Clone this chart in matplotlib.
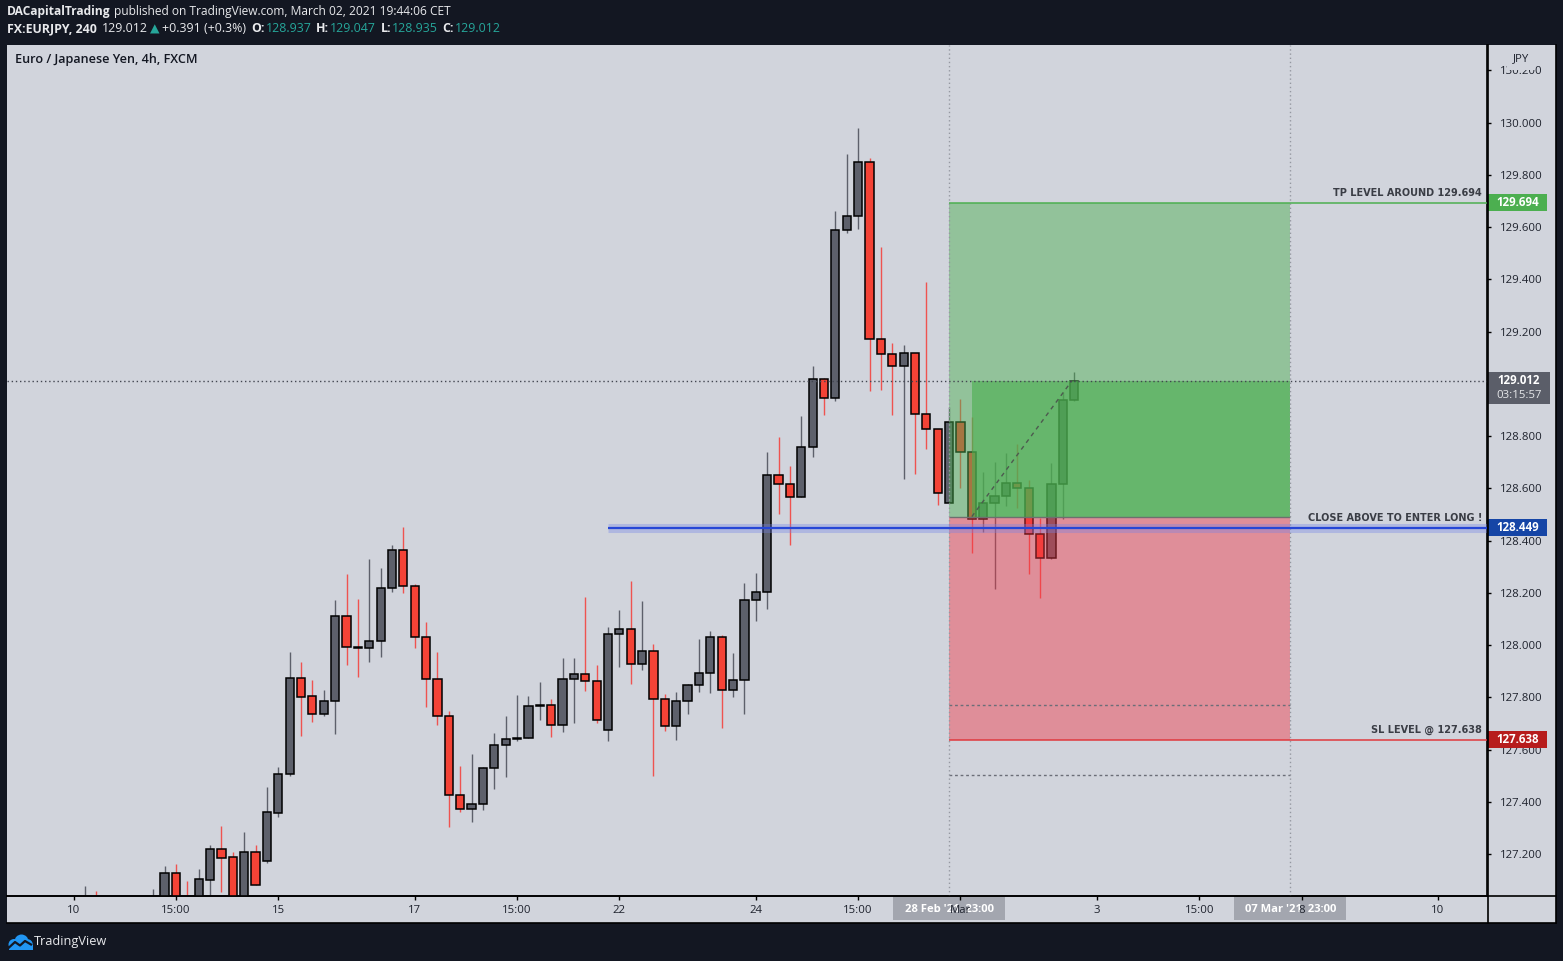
import matplotlib
matplotlib.use("Agg")
import matplotlib.pyplot as plt
from matplotlib.patches import Rectangle, Circle
from matplotlib.lines import Line2D
from matplotlib.transforms import blended_transform_factory as blend

W, H, DPI = 1563, 961, 100
DARK = "#131722"
BG = "#d1d4dc"
UP = "#5d606b"
DOWN = "#f44336"
TEAL = "#26a69a"
FONT = ["Open Sans", "DejaVu Sans"]

# ---------------- data (EURJPY 4h candles, bar index relative to 15 Feb 00:00) ----------------
bar_index = [-17, -16, -11, -10, -9, -8, -7, -6, -5, -4, -3, -2, -1] + list(range(0, 71))
opens = [126.95, 127.00, 126.95, 126.98, 127.126, 127.00, 126.98, 127.102, 127.218, 127.188, 127.00, 127.207, 127.175,
         127.358, 127.505, 127.873, 127.804, 127.735, 127.785, 128.110, 127.992, 127.988, 128.015,
         128.218, 128.363, 128.225, 128.030, 127.869, 127.727, 127.425, 127.371, 127.391, 127.528,
         127.616, 127.640, 127.643, 127.766, 127.770, 127.693, 127.869, 127.888, 127.861, 127.674,
         128.041, 128.060, 127.927, 127.976, 127.792, 127.689, 127.785, 127.846, 127.892, 128.030,
         127.827, 127.865, 128.171, 128.202, 128.650, 128.616, 128.566, 128.757, 129.018, 128.945,
         129.588, 129.642, 129.848, 129.171, 129.113, 129.067, 129.117, 128.884, 128.826, 128.543,
         128.853, 128.738, 128.482, 128.543, 128.570, 128.619, 128.600, 128.424, 128.332, 128.616,
         128.937]
highs = [127.078, 127.060, 127.066, 127.154, 127.162, 127.097, 127.143, 127.235, 127.307, 127.208, 127.284, 127.235, 127.458,
         127.535, 127.974, 127.935, 127.866, 127.827, 128.173, 128.272, 128.176, 128.330, 128.295,
         128.383, 128.452, 128.233, 128.088, 127.974, 127.748, 127.537, 127.583, 127.535, 127.663,
         127.729, 127.809, 127.805, 127.859, 127.793, 127.949, 127.949, 128.184, 127.924, 128.069,
         128.133, 128.245, 128.169, 128.004, 127.813, 127.820, 127.851, 128.023, 128.054, 128.039,
         127.970, 128.238, 128.276, 128.739, 128.797, 128.686, 128.877, 129.069, 129.023, 129.661,
         129.880, 129.980, 129.865, 129.524, 129.157, 129.149, 129.117, 129.390, 128.826, 128.913,
         128.942, 128.873, 128.663, 128.701, 128.735, 128.770, 128.632, 128.485, 128.697, 128.968,
         129.047]
lows = [126.90, 126.90, 126.90, 126.95, 126.95, 126.90, 126.95, 127.02, 127.056, 126.97, 126.98, 127.080, 127.167,
        127.343, 127.499, 127.653, 127.707, 127.730, 127.661, 127.925, 127.879, 127.935, 127.956,
        128.204, 128.201, 127.990, 127.764, 127.695, 127.305, 127.362, 127.324, 127.370, 127.450,
        127.496, 127.632, 127.643, 127.714, 127.649, 127.668, 127.703, 127.825, 127.703, 127.634,
        127.917, 127.852, 127.906, 127.500, 127.672, 127.638, 127.737, 127.822, 127.818, 127.684,
        127.802, 127.737, 128.093, 128.139, 128.503, 128.384, 128.566, 128.721, 128.882, 128.936,
        129.579, 129.594, 128.974, 128.978, 128.882, 128.637, 128.656, 128.752, 128.538, 128.543,
        128.603, 128.354, 128.434, 128.216, 128.534, 128.526, 128.273, 128.181, 128.329, 128.482,
        128.935]
closes = [127.00, 126.95, 127.02, 127.126, 126.98, 126.95, 127.103, 127.218, 127.186, 127.00, 127.207, 127.083, 127.360,
          127.505, 127.873, 127.802, 127.735, 127.785, 128.110, 127.991, 127.988, 128.015, 128.218,
          128.363, 128.225, 128.030, 127.869, 127.727, 127.425, 127.371, 127.391, 127.528, 127.616,
          127.639, 127.643, 127.766, 127.768, 127.693, 127.869, 127.888, 127.861, 127.712, 128.041,
          128.060, 127.927, 127.976, 127.792, 127.689, 127.785, 127.846, 127.892, 128.030, 127.827,
          127.865, 128.171, 128.202, 128.650, 128.616, 128.566, 128.757, 129.018, 128.945, 129.588,
          129.642, 129.848, 129.171, 129.113, 129.067, 129.117, 128.884, 128.826, 128.581, 128.853,
          128.738, 128.482, 128.543, 128.570, 128.619, 128.600, 128.424, 128.332, 128.616, 128.937,
          129.012]

time_tick_pos = [-18, -9, 0, 12, 21, 30, 42, 51, 60, 72, 81, 90, 102]
time_tick_labels = ["10", "15:00", "15", "17", "15:00", "22", "24", "15:00", "Mar", "3", "15:00", "8", "10"]
price_ticks = [127.2, 127.4, 127.6, 127.8, 128.0, 128.2, 128.4, 128.6, 128.8, 129.0, 129.2, 129.4, 129.6, 129.8, 130.0, 130.2]

tp_level = 129.694
entry_level = 128.492
sl_level = 127.638
breakout_level = 128.449
last_close = 129.012
countdown = "03:15:57"
aux_levels = [127.770, 127.502]
pos_start, pos_entry, pos_end = 59, 61, 89
breakout_start = 29
diag_end = 69.8
marker_left = ("28 Feb '21  23:00", 59)
marker_right = ("07 Mar '21  23:00", 89)

# ---------------- figure ----------------
fig = plt.figure(figsize=(W / DPI, H / DPI), dpi=DPI, facecolor=DARK)


def fx(px):
    return px / W


def fy(py):
    return 1 - py / H


fig.patches.append(Rectangle((fx(7), fy(923)), fx(1556) - fx(7), fy(45) - fy(923),
                             transform=fig.transFigure, facecolor=BG, edgecolor="none", zorder=-5))

ax = fig.add_axes([fx(7), fy(896), fx(1487) - fx(7), fy(45) - fy(896)])
ax.set_zorder(1)
ax.set_facecolor(BG)
ax.set_xlim(-23.86, 106.31)
ax.set_ylim(127.0394, 130.2975)
for s in ["top", "left"]:
    ax.spines[s].set_visible(False)
for s in ["right", "bottom"]:
    ax.spines[s].set_color("black")
    ax.spines[s].set_linewidth(1.2)

# candles
min_body = 0.006
up = [c >= o for o, c in zip(opens, closes)]
wick_cols = [UP if u else "#ef5350" for u in up]
body_cols = [UP if u else DOWN for u in up]
ax.vlines(bar_index, lows, highs, colors=wick_cols, linewidth=1.0, zorder=2)
bottoms = [min(o, c) for o, c in zip(opens, closes)]
heights = [max(abs(c - o), min_body) for o, c in zip(opens, closes)]
ax.bar(bar_index, heights, bottom=bottoms, width=0.72, color=body_cols,
       edgecolor="black", linewidth=1.1, zorder=3)

# position tool overlay
GREEN = (76 / 255, 175 / 255, 80 / 255)
RED = (242 / 255, 54 / 255, 69 / 255)
ax.add_patch(Rectangle((pos_start, entry_level), pos_end - pos_start, tp_level - entry_level,
                       facecolor=GREEN, alpha=0.47, edgecolor="none", zorder=4))
ax.add_patch(Rectangle((pos_entry, entry_level), pos_end - pos_entry, last_close - entry_level,
                       facecolor=GREEN, alpha=0.62, edgecolor="none", zorder=4))
ax.add_patch(Rectangle((pos_start, sl_level), pos_end - pos_start, entry_level - sl_level,
                       facecolor=RED, alpha=0.44, edgecolor="none", zorder=4))
ax.hlines(entry_level, pos_start, pos_end, color="#6f6f6f", linewidth=1, zorder=5)
ax.plot([pos_entry, diag_end], [entry_level, last_close], color="#4d5a4f",
        linestyle=(0, (3, 3)), linewidth=1, zorder=5)
ax.hlines(aux_levels, pos_start, pos_end, color="#6b6e78", linestyle=(0, (2, 2)), linewidth=1, zorder=5)

# vertical markers and horizontal levels
for xv in (pos_start, pos_end):
    ax.axvline(xv, color="#9598a1", linestyle=(0, (1, 2)), linewidth=1, zorder=5)
ax.axhline(last_close, color="#434651", linestyle=(0, (1, 2)), linewidth=1, zorder=5)
xmax = ax.get_xlim()[1]
ax.hlines(tp_level, pos_start, xmax, color="#4caf50", linewidth=1.1, zorder=6)
ax.hlines(sl_level, pos_start, xmax, color="#e0393e", linewidth=1.1, zorder=6)
ax.hlines(breakout_level, breakout_start, xmax, color="#7282e8", alpha=0.35, linewidth=6.5, zorder=6)
ax.hlines(breakout_level, breakout_start, xmax, color="#2646d6", linewidth=1.6, zorder=6)

trans_ax_data = blend(ax.transAxes, ax.transData)
for txt, lvl in [("TP LEVEL AROUND 129.694", tp_level),
                 ("CLOSE ABOVE TO ENTER LONG !", breakout_level),
                 ("SL LEVEL @ 127.638", sl_level)]:
    ax.annotate(txt, xy=(0.9966, lvl), xycoords=trans_ax_data, xytext=(0, 3.2),
                textcoords="offset points", ha="right", va="bottom", fontsize=7.0,
                fontweight="bold", color="#3a3d45", family="DejaVu Sans", zorder=7)

# price axis
ax.yaxis.tick_right()
ax.set_yticks(price_ticks)
ax.set_yticklabels([f"{v:.3f}" for v in price_ticks])
ax.tick_params(axis="y", direction="out", length=3, width=1, color="black", pad=6,
               labelsize=8.2, labelcolor="#1e222d")
for lab in ax.get_yticklabels():
    lab.set_family(FONT)

# time axis
ax.set_xticks(time_tick_pos)
ax.set_xticklabels(time_tick_labels)
ax.tick_params(axis="x", direction="out", length=3, width=1, color="black", pad=3.5,
               labelsize=8.2, labelcolor="#1e222d")
for lab in ax.get_xticklabels():
    lab.set_family(FONT)

ypp = (ax.get_ylim()[1] - ax.get_ylim()[0]) / 851.0
xpp = (ax.get_xlim()[1] - ax.get_xlim()[0]) / 1480.0


def price_box(level, text, color, sub=None, width_px=59):
    x0 = 1.0 + 1.0 / 1480
    w = width_px / 1480
    h_top = 8.5 * ypp
    h_bot = (23.0 if sub else 8.5) * ypp
    ax.add_patch(Rectangle((x0, level - h_bot), w, h_top + h_bot, transform=trans_ax_data,
                           facecolor=color, edgecolor="none", clip_on=False, zorder=8))
    ax.text(x0 + w / 2, level, text, transform=trans_ax_data, ha="center", va="center",
            fontsize=8.3, fontweight="bold", color="white", family=FONT, clip_on=False, zorder=9)
    if sub:
        ax.text(x0 + w / 2, level - 15 * ypp, sub, transform=trans_ax_data, ha="center", va="center",
                fontsize=8.2, color="#e6e7ea", family=FONT, clip_on=False, zorder=9)


price_box(tp_level, f"{tp_level:.3f}", "#4caf50")
price_box(last_close, f"{last_close:.3f}", "#5b5e69", sub=countdown, width_px=62)
price_box(breakout_level, f"{breakout_level:.3f}", "#1545a6")
price_box(sl_level, f"{sl_level:.3f}", "#b71c1c")

ax.text(1.0 + 34 / 1480, 1.0 - 13.5 / 851, "JPY", transform=ax.transAxes, ha="center", va="center",
        fontsize=8.2, color="#1e222d", family=FONT, clip_on=False, zorder=9,
        bbox=dict(boxstyle="square,pad=0.5", facecolor=BG, edgecolor="none"))

# time axis highlight boxes (below tick labels)
trans_data_ax = blend(ax.transData, ax.transAxes)
for txt, xv in (marker_left, marker_right):
    ax.add_patch(Rectangle((xv - 56 * xpp, -23.5 / 851), 112 * xpp, 23.5 / 851, transform=trans_data_ax,
                           facecolor="#a3a6af", edgecolor="none", clip_on=False, zorder=1.0))
    ax.text(xv, -13 / 851, txt, transform=trans_data_ax, ha="center", va="center", fontsize=8.1,
            fontweight="bold", color="white", family=FONT, clip_on=False, zorder=1.2)

# frame lines
for (x0, y0, x1, y1) in [(1488, 45, 1488, 923), (7, 896, 1556, 896), (1556, 45, 1556, 923), (7, 923, 1556, 923)]:
    fig.add_artist(Line2D([fx(x0), fx(x1)], [fy(y0), fy(y1)], color="black", linewidth=1.2,
                          transform=fig.transFigure, zorder=10))

# chart title
fig.text(fx(15), fy(60), "Euro / Japanese Yen, 4h, FXCM", ha="left", va="center", fontsize=9.1,
         fontweight="semibold", color="#131722", family=FONT, zorder=11)

# header
renderer = fig.canvas.get_renderer()


def seq_text(x_px, y_px, segments, size):
    x = x_px
    for s, color, weight, gap in segments:
        t = fig.text(fx(x), fy(y_px), s, ha="left", va="center", fontsize=size, fontweight=weight,
                     color=color, family=FONT)
        x += t.get_window_extent(renderer).width + gap


WH = "#e8e9ec"
seq_text(7, 12, [("DACapitalTrading", WH, "bold", 3.5),
                 ("published on TradingView.com, March 02, 2021 19:44:06 CET", WH, "normal", 0)], 8.65)
seq_text(7, 29, [("FX:EURJPY, 240", WH, "bold", 5),
                 (f"{last_close:.3f}", WH, "normal", 2),
                 ("▲", TEAL, "normal", 3),
                 ("+0.391 (+0.3%)", WH, "normal", 5),
                 ("O:", WH, "bold", 1), ("128.937", TEAL, "normal", 4.5),
                 ("H:", WH, "bold", 1), ("129.047", TEAL, "normal", 4.5),
                 ("L:", WH, "bold", 1), ("128.935", TEAL, "normal", 4.5),
                 ("C:", WH, "bold", 1), (f"{last_close:.3f}", TEAL, "normal", 0)], 8.9)

# footer logo
lax = fig.add_axes([fx(6), fy(951), 27 / W, 17 / H])
lax.set_xlim(0, 27)
lax.set_ylim(0, 17)
lax.axis("off")
for (cx, cy, r) in [(8, 6.5, 5.5), (15.5, 9.5, 7), (21.5, 6.5, 5.3)]:
    lax.add_patch(Circle((cx, cy), r, facecolor="#2196f3", edgecolor="none"))
lax.add_patch(Rectangle((2.5, 1), 24.5, 5.5, facecolor="#2196f3", edgecolor="none"))
lax.plot([3, 9, 14, 19, 25], [3.5, 9, 5.5, 10, 6.5], color=DARK, linewidth=1.6)
fig.text(fx(34), fy(942), "TradingView", ha="left", va="center", fontsize=9.2, color=WH, family=FONT)

fig.savefig("out.png", dpi=DPI, facecolor=DARK)
